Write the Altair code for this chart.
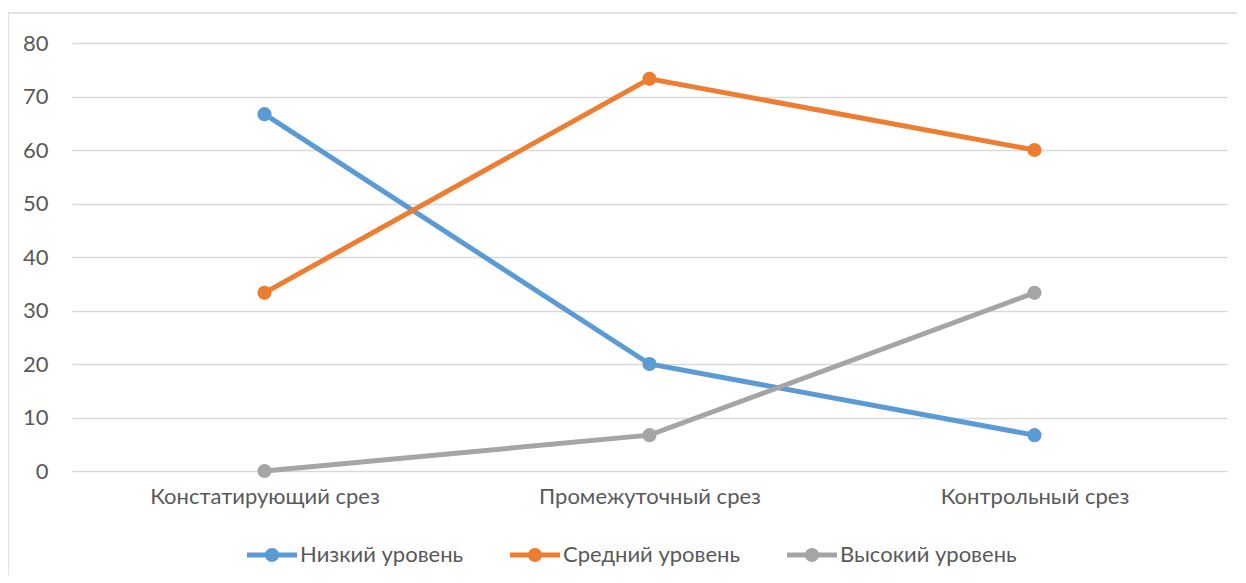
import altair as alt
import pandas as pd

categories = ["Констатирующий срез", "Промежуточный срез", "Контрольный срез"]
series = ["Низкий уровень", "Средний уровень", "Высокий уровень"]
low = [66.7, 20.0, 6.7]
mid = [33.3, 73.3, 60.0]
high = [0.0, 6.7, 33.3]
colors = ["#5B9BD5", "#ED7D31", "#A5A5A5"]

rows = []
for s, vals in zip(series, [low, mid, high]):
    for c, v in zip(categories, vals):
        rows.append({"Срез": c, "Уровень": s, "Значение": v})
df = pd.DataFrame(rows)

FONT = "Lato"
TXT = "#595959"
FS = 22

x = alt.X("Срез:N", sort=categories, title=None,
          scale=alt.Scale(paddingInner=0, paddingOuter=0),
          axis=alt.Axis(labelAngle=0, domain=False, ticks=False, labelPadding=15,
                        labelFontSize=FS, labelColor=TXT, labelFont=FONT, grid=False,
                        labelLimit=500))
y = alt.Y("Значение:Q", title=None,
          scale=alt.Scale(domain=[0, 80], nice=False),
          axis=alt.Axis(values=list(range(0, 81, 10)), domain=False, ticks=False,
                        labelPadding=24, labelFontSize=FS, labelColor=TXT, labelFont=FONT,
                        gridColor="#D9D9D9", gridWidth=1.5))
color_scale = alt.Scale(domain=series, range=colors)

legend_path = ("M-1,-0.1 H1 V0.1 H-1 Z "
               "M0.28,0 A0.28,0.28 0 1,1 -0.28,0 A0.28,0.28 0 1,1 0.28,0 Z")
legend = alt.Legend(title=None, orient="none", direction="horizontal",
                    legendX=175, legendY=487,
                    symbolType=legend_path, symbolSize=2500,
                    symbolStrokeWidth=0, symbolOpacity=1,
                    labelFontSize=FS, labelColor=TXT, labelFont=FONT, labelLimit=500,
                    columnPadding=46, symbolOffset=0, labelOffset=3)
color = alt.Color("Уровень:N", scale=color_scale, sort=series, legend=legend)

lines = alt.Chart(df).mark_line(strokeWidth=5).encode(x=x, y=y, color=color)
points = alt.Chart(df).mark_point(filled=True, size=200, opacity=1).encode(
    x=x, y=y, color=color)

frame = alt.Chart(pd.DataFrame({"a": [0]})).mark_rect(
    fill="transparent", stroke="#D9D9D9", strokeWidth=1.5
).encode(x=alt.value(-64), x2=alt.value(1300), y=alt.value(-30), y2=alt.value(800))

chart = alt.layer(frame, lines, points).properties(
    width=1155, height=428,
    autosize=alt.AutoSizeParams(type="none"),
    padding={"left": 64, "top": 35, "right": 10, "bottom": 104},
    view=alt.ViewBackground(strokeOpacity=0, strokeWidth=0),
).configure_view(strokeOpacity=0, strokeWidth=0).configure(background="white")

chart.save("out.html", embed_options={"renderer": "svg", "actions": False})
